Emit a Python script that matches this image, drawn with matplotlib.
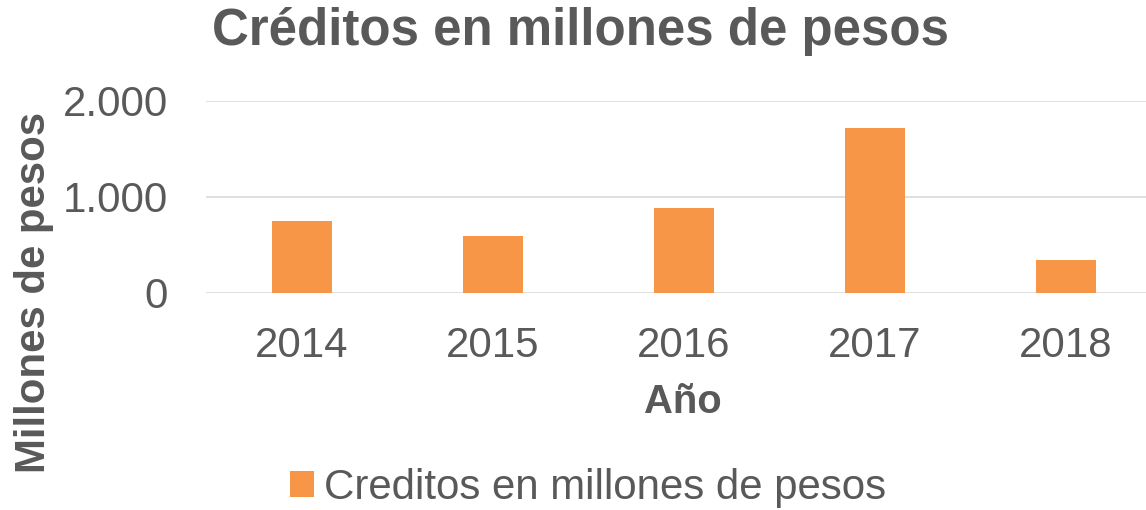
import numpy as np
import matplotlib.pyplot as plt

# DATOS
anios = ['2014', '2015', '2016', '2017', '2018']
creditos = [748, 590, 882, 1716, 337]   # millones de pesos
y_ticks = [0, 1000, 2000]
y_tick_labels = ['0', '1.000', '2.000']

gris = '#595959'
naranja = '#F79646'

plt.rcParams['font.family'] = ['Liberation Sans', 'DejaVu Sans']

fig = plt.figure(figsize=(1146 / 72, 510 / 72), dpi=72)
ax = fig.add_axes([206 / 1146, 1 - 292.7 / 510, 1 - 206 / 1146, (292.7 - 101) / 510])

x = np.arange(len(anios))
ax.bar(x, creditos, width=0.314, color=naranja, zorder=3,
       label='Creditos en millones de pesos')

ax.set_xlim(-0.5, 4.42)
ax.set_ylim(0, 2000)
ax.set_yticks(y_ticks)
ax.set_yticklabels(y_tick_labels)
ax.set_xticks(x)
ax.set_xticklabels(anios)
ax.tick_params(axis='both', length=0, labelsize=42, labelcolor=gris)
ax.tick_params(axis='y', pad=38)
ax.tick_params(axis='x', pad=33)
ax.grid(axis='y', color='#D9D9D9', linewidth=1.6, zorder=0)
for s in ax.spines.values():
    s.set_visible(False)

# titulos de ejes y grafico
fig.text(682.5 / 1146, 1 - 413 / 510, 'Año', fontsize=40, fontweight='bold',
         color=gris, ha='center', va='baseline')
fig.text(580 / 1146, 1 - 32 / 510, 'Créditos en millones de pesos',
         fontsize=51, fontweight='bold', color=gris, ha='center', va='center')
fig.text(34 / 1146, 1 - 292.5 / 510, 'Millones de pesos', rotation=90,
         fontsize=42, fontweight='bold', color=gris, ha='center', va='center')

leg = fig.legend(loc='center', bbox_to_anchor=(588 / 1146, 1 - 488 / 510),
                 frameon=False, fontsize=42, handlelength=0.57, handleheight=0.57,
                 handletextpad=0.24, labelcolor=gris)

fig.savefig('out.png', dpi=72)
